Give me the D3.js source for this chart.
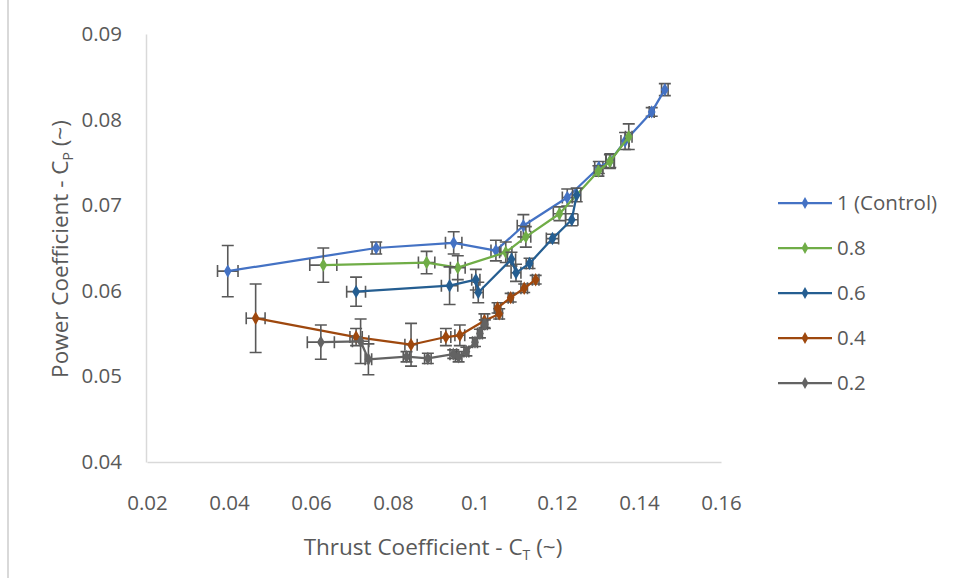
<!DOCTYPE html>
<html>
<head>
<meta charset="utf-8">
<script src="https://cdn.jsdelivr.net/npm/d3@7"></script>
<style>
  html, body { margin: 0; padding: 0; background: #fff; }
  svg { display: block; font-family: "Open Sans", "Noto Sans", sans-serif; }
</style>
</head>
<body>
<svg id="chart" width="954" height="578"></svg>
<script>
// Each point: [C_T, C_P, C_T error, C_P error]
const control = [
  [0.0397, 0.0623, 0.0025, 0.0030],
  [0.0759, 0.0650, 0.0010, 0.0007],
  [0.0948, 0.0656, 0.0020, 0.0013],
  [0.1051, 0.0647, 0.0012, 0.0012],
  [0.1118, 0.0676, 0.0015, 0.0013],
  [0.1225, 0.0709, 0.0012, 0.0010],
  [0.1302, 0.0744, 0.0010, 0.0007],
  [0.1330, 0.0752, 0.0010, 0.0008],
  [0.1366, 0.0775, 0.0010, 0.0010],
  [0.1431, 0.0809, 0.0006, 0.0005],
  [0.1463, 0.0835, 0.0008, 0.0007]
];
const ratio08 = [
  [0.0630, 0.0630, 0.0033, 0.0020],
  [0.0882, 0.0633, 0.0020, 0.0013],
  [0.0958, 0.0627, 0.0018, 0.0014],
  [0.1075, 0.0645, 0.0015, 0.0012],
  [0.1124, 0.0663, 0.0012, 0.0012],
  [0.1206, 0.0690, 0.0015, 0.0008],
  [0.1301, 0.0740, 0.0010, 0.0006],
  [0.1329, 0.0751, 0.0010, 0.0008],
  [0.1375, 0.0780, 0.0008, 0.0015]
];
const ratio06 = [
  [0.0710, 0.0599, 0.0023, 0.0017],
  [0.0938, 0.0606, 0.0020, 0.0022],
  [0.1002, 0.0613, 0.0010, 0.0012],
  [0.1008, 0.0598, 0.0012, 0.0012],
  [0.1089, 0.0637, 0.0010, 0.0008],
  [0.1100, 0.0621, 0.0012, 0.0010],
  [0.1133, 0.0632, 0.0008, 0.0006],
  [0.1189, 0.0661, 0.0015, 0.0005],
  [0.1236, 0.0683, 0.0015, 0.0007],
  [0.1248, 0.0712, 0.0010, 0.0008]
];
const ratio04 = [
  [0.0465, 0.0568, 0.0023, 0.0040],
  [0.0710, 0.0546, 0.0015, 0.0010],
  [0.0844, 0.0537, 0.0015, 0.0025],
  [0.0929, 0.0546, 0.0012, 0.0010],
  [0.0963, 0.0548, 0.0012, 0.0012],
  [0.1023, 0.0565, 0.0008, 0.0008],
  [0.1059, 0.0573, 0.0008, 0.0006],
  [0.1055, 0.0580, 0.0008, 0.0006],
  [0.1087, 0.0592, 0.0006, 0.0005],
  [0.1120, 0.0603, 0.0008, 0.0005],
  [0.1148, 0.0613, 0.0008, 0.0005]
];
const ratio02 = [
  [0.0624, 0.0540, 0.0033, 0.0020],
  [0.0721, 0.0541, 0.0020, 0.0026],
  [0.0740, 0.0520, 0.0008, 0.0018],
  [0.0833, 0.0523, 0.0008, 0.0006],
  [0.0885, 0.0521, 0.0008, 0.0006],
  [0.0947, 0.0526, 0.0008, 0.0005],
  [0.0960, 0.0523, 0.0008, 0.0006],
  [0.0979, 0.0529, 0.0006, 0.0005],
  [0.1000, 0.0540, 0.0006, 0.0005],
  [0.1012, 0.0550, 0.0006, 0.0005],
  [0.1024, 0.0561, 0.0006, 0.0005]
];

const seriesNames = ["1 (Control)", "0.8", "0.6", "0.4", "0.2"];
const seriesColors = ["#4472C4", "#70AD47", "#255E91", "#9E480E", "#636363"];
const seriesData = [control, ratio08, ratio06, ratio04, ratio02];
const xTicks = [0.02, 0.04, 0.06, 0.08, 0.1, 0.12, 0.14, 0.16];
const yTicks = [0.04, 0.05, 0.06, 0.07, 0.08, 0.09];

const svg = d3.select("#chart");
const textColor = "#595959";
const errColor = "#595959";

const x = d3.scaleLinear().domain([0.02, 0.16]).range([147, 721]);
const y = d3.scaleLinear().domain([0.04, 0.09]).range([462, 34]);

// outer frame edge on the left
svg.append("line")
  .attr("x1", 8).attr("x2", 8).attr("y1", 0).attr("y2", 578)
  .attr("stroke", "#D9D9D9").attr("stroke-width", 2);

// axes
const xAxis = svg.append("g").attr("transform", `translate(0,${y(0.04)})`)
  .call(d3.axisBottom(x).tickValues(xTicks).tickSize(0)
    .tickFormat(d => d3.format("~g")(d)));
const yAxis = svg.append("g").attr("transform", `translate(${x(0.02) - 1},0)`)
  .call(d3.axisLeft(y).tickValues(yTicks).tickSize(0).tickPadding(24)
    .tickFormat(d => d3.format(".2f")(d)));
[xAxis, yAxis].forEach(g => {
  g.select(".domain").attr("stroke", "#D9D9D9").attr("stroke-width", 1.5);
  g.selectAll("text").attr("fill", textColor).attr("font-size", 20.5)
    .attr("font-family", "'Open Sans', sans-serif");
});
xAxis.selectAll(".tick text").attr("y", 41).attr("dy", "0.35em");

// axis titles with subscripts
const xt = svg.append("text")
  .attr("x", 433).attr("y", 555)
  .attr("text-anchor", "middle").attr("fill", textColor).attr("font-size", 22.5);
xt.append("tspan").text("Thrust Coefficient - C");
xt.append("tspan").text("T").attr("font-size", 14).attr("dy", 5);
xt.append("tspan").text(" (~)").attr("dy", -5);

const yt = svg.append("text")
  .attr("transform", "translate(68,249) rotate(-90)")
  .attr("text-anchor", "middle").attr("fill", textColor).attr("font-size", 22.5);
yt.append("tspan").text("Power Coefficient - C");
yt.append("tspan").text("P").attr("font-size", 14).attr("dy", 5);
yt.append("tspan").text(" (~)").attr("dy", -5);

const diamond = d3.symbol().type(d3.symbolDiamond).size(52);
const line = d3.line().x(d => x(d[0])).y(d => y(d[1]));
const cap = 6;

seriesData.forEach((data, i) => {
  const g = svg.append("g");
  const eb = g.append("g").attr("stroke", errColor).attr("stroke-width", 1.6).attr("fill", "none");
  data.forEach(d => {
    const cx = x(d[0]), cy = y(d[1]);
    const x0 = x(d[0] - d[2]), x1 = x(d[0] + d[2]);
    const y0 = y(d[1] - d[3]), y1 = y(d[1] + d[3]);
    eb.append("path").attr("d",
      `M${x0},${cy}H${x1}M${x0},${cy - cap}V${cy + cap}M${x1},${cy - cap}V${cy + cap}` +
      `M${cx},${y0}V${y1}M${cx - cap},${y0}H${cx + cap}M${cx - cap},${y1}H${cx + cap}`);
  });
  g.append("path").datum(data).attr("d", line)
    .attr("fill", "none").attr("stroke", seriesColors[i]).attr("stroke-width", 2.25)
    .attr("stroke-linejoin", "round");
  g.selectAll(".pt").data(data).join("path")
    .attr("transform", d => `translate(${x(d[0])},${y(d[1])})`)
    .attr("d", diamond).attr("fill", seriesColors[i]);
});

// legend
const legend = svg.append("g");
seriesNames.forEach((name, i) => {
  const ly = 203 + i * 45;
  legend.append("line").attr("x1", 778).attr("x2", 832).attr("y1", ly).attr("y2", ly)
    .attr("stroke", seriesColors[i]).attr("stroke-width", 2.25);
  legend.append("path").attr("transform", `translate(805,${ly})`)
    .attr("d", d3.symbol().type(d3.symbolDiamond).size(40)).attr("fill", seriesColors[i]);
  legend.append("text").attr("x", 837).attr("y", ly).attr("dy", "0.35em")
    .attr("fill", textColor).attr("font-size", 20.5).text(name);
});
</script>
</body>
</html>
